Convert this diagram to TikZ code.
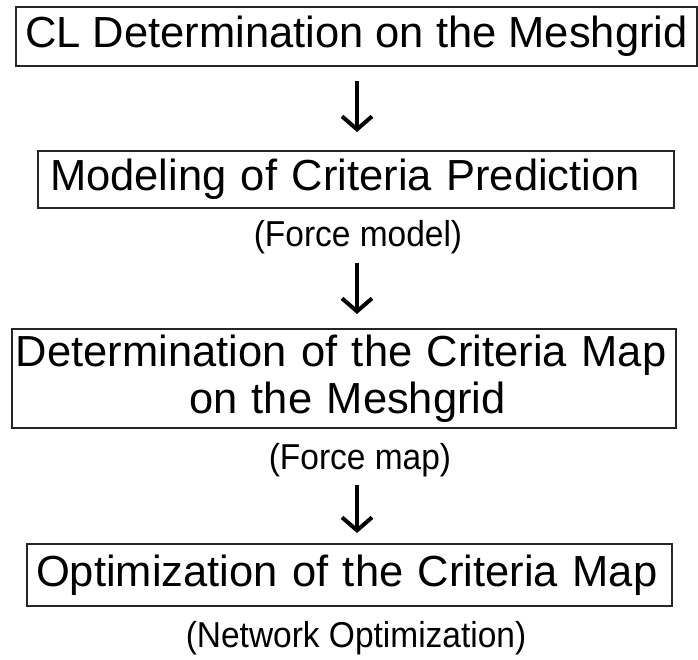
\documentclass[tikz,border=0pt]{standalone}
\usepackage{fontspec}
\setmainfont{Liberation Sans}
\usetikzlibrary{arrows.meta}
\tikzset{
  stepbox/.style={draw=black!85, line width=1.3pt, rectangle, inner sep=0pt,
    font=\fontsize{43.5}{47}\selectfont},
  note/.style={inner sep=0pt, font=\fontsize{36}{40}\selectfont, xscale=0.93},
  flow/.style={line width=4pt, -{Straight Barb[length=13pt,width=30pt]}}
}
\begin{document}
\begin{tikzpicture}[x=1pt,y=-1pt]
\useasboundingbox (0,0) rectangle (698,659);
\node[stepbox, minimum width=681pt, minimum height=59pt] (b1) at (356.5,36.5) {CL Determination on the Meshgrid};
\node[stepbox, minimum width=636pt, minimum height=57pt, text width=612pt, align=left] (b2) at (356,179.5) {Modeling of Criteria Prediction};
\node[stepbox, minimum width=664pt, minimum height=99pt, text width=656pt, align=left] (b3) at (344,378.5) {Determination of the Criteria Map\\\hspace*{173pt}on the Meshgrid};
\node[stepbox, minimum width=645pt, minimum height=62pt, text width=627pt, align=left] (b4) at (349.5,575) {Optimization of the Criteria Map};
\node[note] (l2) at (358,237) {(Force model)};
\node[note] (l3) at (360,460) {(Force map)};
\node[note] (l4) at (356,638) {(Network Optimization)};
\coordinate (a1s) at (357,81);  \coordinate (a1e) at (357,132);
\coordinate (a2s) at (357,263); \coordinate (a2e) at (357,314);
\coordinate (a3s) at (357,485); \coordinate (a3e) at (357,533);
\draw[flow] (a1s) -- (a1e);
\draw[flow] (a2s) -- (a2e);
\draw[flow] (a3s) -- (a3e);
\end{tikzpicture}
\end{document}
